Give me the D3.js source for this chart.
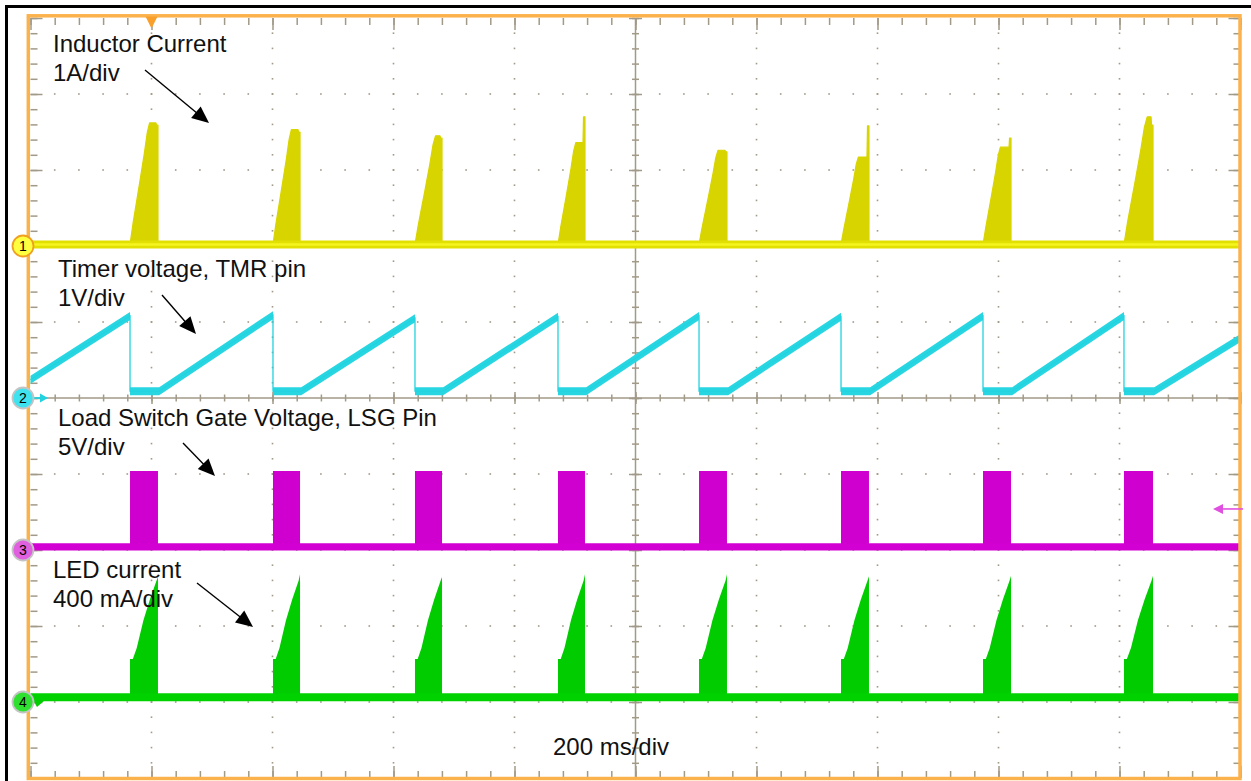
<!DOCTYPE html>
<html><head><meta charset="utf-8">
<script src="https://cdn.jsdelivr.net/npm/d3@7"></script>
<style>
html,body{margin:0;padding:0;background:#fff;}
svg{display:block;}
text{font-family:"Liberation Sans",Arial,Helvetica,sans-serif;}
</style></head><body>
<svg id="c" width="1251" height="781"></svg>
<script>
// ---------- data ----------
const timeDivMs = 200;                      // 200 ms/div
const timeDivs = [0,1,2,3,4,5,6,7,8,9,10];  // horizontal divisions
const vertDivs = [-5,-4,-3,-2,-1,0,1,2,3,4,5];
const triggerMs = 200;

// pulse timing (ms), common to all channels
const pulseStartMs = [164.5, 400.8, 635.5, 871.9, 1105.0, 1339.7, 1574.4, 1807.4];
const pulseEndMs   = [210.7, 445.5, 680.2, 916.5, 1151.2, 1385.9, 1620.7, 1855.4];

// CH1 inductor current (A), 1 A/div, ground at +2 div
const ch1PeakFrac = [0.70, 0.68, 0.76, 0.66, 0.68, 0.62, 0.62, 0.80];
const ch1PeakA    = [1.62, 1.53, 1.45, 1.36, 1.26, 1.17, 1.30, 1.70];
const ch1EndA     = [1.59, 1.50, 1.42, 1.70, 1.24, 1.58, 1.42, 1.59];
const ch1RiseRelT = [0, 0.16, 0.49, 0.73, 0.88, 1];       // share of rise time
const ch1RiseRelV = [0, 0.19, 0.51, 0.75, 0.92, 1];       // share of peak value
const ch1BaseA    = 0.02;

// CH2 timer voltage TMR (V), 1 V/div, ground at 0 div
const ch2RampTopV = [1.08, 1.09, 1.05, 1.07, 1.08, 1.07, 1.08, 1.08];
const ch2StartV = 0.24, ch2EndV = 0.79, ch2FloorV = 0.09;

// CH3 load switch gate LSG (V), 5 V/div, ground at -2 div
const ch3HighV = 5.2, ch3LowV = 0.2, ch3TrigV = 2.7;

// CH4 LED current (A), 400 mA/div, ground at -4 div
const ch4ProfileFrac = [0, 0.10, 0.24, 0.48, 0.71, 0.95];
const ch4ProfileA    = [0.226, 0.226, 0.284, 0.43, 0.54, 0.64];
const ch4PeakA       = [0.658, 0.672, 0.658, 0.672, 0.672, 0.662, 0.665, 0.665];
const ch4BaseA = 0.025;

const channelOffsetDiv = [2, 0, -2, -4];
const channelPerDiv    = [1, 1, 5, 0.4];
const channelColor     = ['#d8d400', '#22d3df', '#cf00cf', '#00cc00'];
const channelBand      = ['#e2e000', '#28d6e2', '#d200d2', '#00d200'];
const markerFill       = ['#ffff40', '#3fe3f0', '#e060e0', '#30e030'];

const labels = [
  {lines:['Inductor Current','1A/div'], x:53, y:52},
  {lines:['Timer voltage, TMR pin','1V/div'], x:58, y:277},
  {lines:['Load Switch Gate Voltage, LSG Pin','5V/div'], x:58, y:426},
  {lines:['LED current','400 mA/div'], x:53, y:578}
];
const arrows = [[145,70,209,123],[162,295,196,334],[183,443,215,476],[197,583,253,627]];
const timebaseLabel = '200 ms/div';

// ---------- scales ----------
const svg = d3.select('#c');
const x = d3.scaleLinear().domain([0, timeDivMs*10]).range([30.5, 1240.5]);
const y = d3.scaleLinear().domain([-5, 5]).range([778, 18]);
const yc = (ch, v) => y(channelOffsetDiv[ch] + v / channelPerDiv[ch]);
const gridColor = '#a29a88';

// ---------- outer frame ----------
svg.append('line').attr('x1',5).attr('x2',1251).attr('y1',6.5).attr('y2',6.5).attr('stroke','#000').attr('stroke-width',3);
svg.append('line').attr('x1',6.5).attr('x2',6.5).attr('y1',5).attr('y2',781).attr('stroke','#000').attr('stroke-width',3);

// ---------- graticule ----------
const grat = svg.append('g');
const minorY = d3.range(-5, 5.0001, 0.2).map(v => +v.toFixed(2));
const minorX = d3.range(0, 2000.01, 40);
timeDivs.filter(d => d > 0 && d < 10 && d !== 5).forEach(d => {
  grat.append('g').selectAll('rect').data(minorY.slice(1, -1)).join('rect')
    .attr('x', x(d*timeDivMs) - 0.8).attr('y', v => y(v) - 0.8)
    .attr('width', 1.6).attr('height', 1.6).attr('fill', gridColor);
});
vertDivs.filter(d => d > -5 && d < 5 && d !== 0).forEach(d => {
  grat.append('g').selectAll('rect').data(minorX.slice(1, -1)).join('rect')
    .attr('x', t => x(t) - 0.8).attr('y', y(d) - 0.8)
    .attr('width', 1.6).attr('height', 1.6).attr('fill', gridColor);
});
grat.append('line').attr('x1', x(1000)).attr('x2', x(1000)).attr('y1', y(5)).attr('y2', y(-5)).attr('stroke', gridColor).attr('stroke-width', 1.5);
grat.append('line').attr('x1', x(0)).attr('x2', x(2000)).attr('y1', y(0)).attr('y2', y(0)).attr('stroke', gridColor).attr('stroke-width', 1.5);

const majorX = timeDivs.map(d => d*timeDivMs);
function tickAxis(axisFn, scale, vals, size, tx, ty) {
  const g = grat.append('g').attr('transform', `translate(${tx},${ty})`)
    .call(axisFn(scale).tickValues(vals).tickSize(size).tickFormat(''));
  g.select('.domain').remove();
  g.selectAll('line').attr('stroke', gridColor).attr('stroke-width', 1.5);
}
// edges
tickAxis(d3.axisBottom, x, minorX, 7, 0, y(5));
tickAxis(d3.axisBottom, x, majorX, 12, 0, y(5));
tickAxis(d3.axisTop, x, minorX, 7, 0, y(-5));
tickAxis(d3.axisTop, x, majorX, 12, 0, y(-5));
tickAxis(d3.axisRight, y, minorY, 7, x(0), 0);
tickAxis(d3.axisRight, y, vertDivs, 12, x(0), 0);
tickAxis(d3.axisLeft, y, minorY, 7, x(2000), 0);
tickAxis(d3.axisLeft, y, vertDivs, 12, x(2000), 0);
// center lines
tickAxis(d3.axisLeft, y, minorY, 3.5, x(1000), 0);
tickAxis(d3.axisRight, y, minorY, 3.5, x(1000), 0);
tickAxis(d3.axisLeft, y, vertDivs, 6.5, x(1000), 0);
tickAxis(d3.axisRight, y, vertDivs, 6.5, x(1000), 0);
tickAxis(d3.axisTop, x, minorX, 3.5, 0, y(0));
tickAxis(d3.axisBottom, x, minorX, 3.5, 0, y(0));
tickAxis(d3.axisTop, x, majorX, 6, 0, y(0));
tickAxis(d3.axisBottom, x, majorX, 6, 0, y(0));

// ---------- traces ----------
const traces = svg.append('g');
function band(ch, pts, h, color) {
  traces.append('path').datum(pts)
    .attr('d', d3.area().x(d => x(d.t)).y0(d => yc(ch, d.v) - h).y1(d => yc(ch, d.v) + h))
    .attr('fill', color);
}
function fill(ch, pts, base, color, edge) {
  traces.append('path').datum(pts)
    .attr('d', d3.area().x(d => x(d.t)).y0(yc(ch, base)).y1(d => yc(ch, d.v)))
    .attr('fill', color).attr('stroke', edge ? color : 'none').attr('stroke-width', edge || 0)
    .attr('stroke-linejoin', 'round');
}

// CH1
const ch1Pts = [{t:0, v:ch1BaseA}];
pulseStartMs.forEach((s, i) => {
  const e = pulseEndMs[i], w = e - s, tr = ch1PeakFrac[i]*w;
  ch1Pts.push({t:s, v:ch1BaseA});
  ch1RiseRelT.forEach((r, k) => { if (k > 0) ch1Pts.push({t:s + r*tr, v:ch1RiseRelV[k]*ch1PeakA[i]}); });
  ch1Pts.push({t:e - 3.3, v:ch1PeakA[i]}, {t:e - 2.4, v:ch1EndA[i]}, {t:e, v:ch1EndA[i]}, {t:e, v:ch1BaseA});
});
ch1Pts.push({t:2000, v:ch1BaseA});
fill(0, ch1Pts, ch1BaseA, channelColor[0], 1.2);
band(0, [{t:0, v:ch1BaseA}, {t:2000, v:ch1BaseA}], 4, channelBand[0]);
band(0, [{t:0, v:ch1BaseA}, {t:2000, v:ch1BaseA}], 1.3, '#f6f420');

// CH2
const ch2Pts = [{t:0, v:ch2StartV}];
pulseStartMs.forEach((s, i) => {
  ch2Pts.push({t:s, v:ch2RampTopV[i]}, {t:s, v:ch2FloorV}, {t:pulseEndMs[i] + 2, v:ch2FloorV});
});
ch2Pts.push({t:2000, v:ch2EndV});
band(1, ch2Pts, 4, channelBand[1]);
traces.append('path').datum(ch2Pts)
  .attr('d', d3.line().x(d => x(d.t)).y(d => yc(1, d.v)))
  .attr('fill', 'none').attr('stroke', channelColor[1]).attr('stroke-width', 1.3);

// CH3
const ch3Pts = [{t:0, v:ch3LowV}];
pulseStartMs.forEach((s, i) => {
  const e = pulseEndMs[i];
  ch3Pts.push({t:s, v:ch3LowV}, {t:s, v:ch3HighV}, {t:e, v:ch3HighV}, {t:e, v:ch3LowV});
});
ch3Pts.push({t:2000, v:ch3LowV});
fill(2, ch3Pts, ch3LowV, channelColor[2]);
band(2, [{t:0, v:ch3LowV}, {t:2000, v:ch3LowV}], 3.6, channelBand[2]);

// CH4
const ch4Pts = [{t:0, v:ch4BaseA}];
pulseStartMs.forEach((s, i) => {
  const e = pulseEndMs[i], w = e - s;
  ch4Pts.push({t:s, v:ch4BaseA});
  ch4ProfileFrac.forEach((f, k) => ch4Pts.push({t:s + f*w, v:ch4ProfileA[k]}));
  ch4Pts.push({t:e, v:ch4PeakA[i]}, {t:e, v:ch4BaseA});
});
ch4Pts.push({t:2000, v:ch4BaseA});
fill(3, ch4Pts, ch4BaseA, channelColor[3]);
band(3, [{t:0, v:ch4BaseA}, {t:2000, v:ch4BaseA}], 4, channelBand[3]);

// ---------- orange border + trigger ----------
svg.append('rect').attr('x', 28.3).attr('y', 15.8).attr('width', 1240 - 28.3).attr('height', 778.5 - 15.8)
  .attr('fill', 'none').attr('stroke', '#fbb24c').attr('stroke-width', 3.5);
const tx = x(triggerMs);
svg.append('path').attr('d', `M${tx-6},16.5L${tx+6},16.5L${tx},28.5Z`).attr('fill', '#f9a02c');

// ---------- arrows ----------
function arrow(x1, y1, x2, y2, color, L, hw, sw) {
  const dx = x2 - x1, dy = y2 - y1, len = Math.hypot(dx, dy), ux = dx/len, uy = dy/len;
  const bx = x2 - ux*L, by = y2 - uy*L;
  svg.append('line').attr('x1', x1).attr('y1', y1).attr('x2', bx + ux*2).attr('y2', by + uy*2)
    .attr('stroke', color).attr('stroke-width', sw);
  svg.append('path').attr('d', `M${x2},${y2}L${bx - uy*hw},${by + ux*hw}L${bx + uy*hw},${by - ux*hw}Z`).attr('fill', color);
}
arrows.forEach(a => arrow(a[0], a[1], a[2], a[3], '#000', 17, 7.5, 1.4));
// trigger level arrow for ch3
arrow(1243, yc(2, ch3TrigV), 1213, yc(2, ch3TrigV), '#e050e0', 10, 5, 1.6);

// ---------- channel markers ----------
[0,1,2,3].forEach(ch => {
  const cy = yc(ch, 0);
  if (ch === 1) arrow(33, cy, 48, cy, '#22d3df', 8, 4.5, 1.8);
  if (ch === 3) svg.append('path').attr('d', `M33,${cy-2}L45,${cy-2}L37,${cy+5}Z`).attr('fill', '#00cc00');
  svg.append('circle').attr('cx', 23).attr('cy', cy).attr('r', 10.5)
    .attr('fill', markerFill[ch]).attr('stroke', ch === 0 ? '#f0a020' : '#c4c4c4').attr('stroke-width', 1.8);
  svg.append('text').attr('x', 23).attr('y', cy + 5).attr('text-anchor', 'middle')
    .attr('font-size', 14).attr('fill', '#000').text(ch + 1);
});

// ---------- labels ----------
labels.forEach(l => {
  l.lines.forEach((s, k) => {
    svg.append('text').attr('x', l.x).attr('y', l.y + k*29).attr('font-size', 24).attr('fill', '#111').text(s);
  });
});
svg.append('text').attr('x', 553).attr('y', 755).attr('font-size', 24).attr('fill', '#111').text(timebaseLabel);
</script>
</body></html>
